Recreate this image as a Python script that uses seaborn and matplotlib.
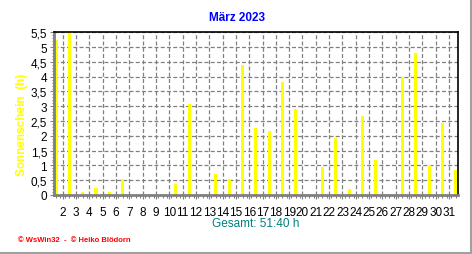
import matplotlib
matplotlib.use("Agg")
import matplotlib.pyplot as plt
from matplotlib.ticker import FixedLocator, MultipleLocator, FuncFormatter
from matplotlib.lines import Line2D
import seaborn as sns
import pandas as pd
import numpy as np

days = list(range(1, 32))
sunshine = [5.25, 5.5, 0.11, 0.23, 0.11, 0.54, 0.02, 0.02, 0.02, 0.37,
            3.08, 0.03, 0.71, 0.54, 4.40, 2.27, 2.16, 3.82, 2.91, 0.03,
            0.94, 1.93, 0.20, 2.67, 1.18, 0.03, 3.99, 4.80, 1.01, 2.44, 0.86]
tick_labels = [str(d) for d in range(2, 32)]
title = "März 2023"
ylabel = "Sonnenschein  (h)"
xlabel = "Gesamt: 51:40 h"
footer = "© WsWin32  -  © Heiko Blödorn"

sns.set_theme(style="white")
plt.rcParams['font.family'] = ['Liberation Sans', 'DejaVu Sans']

df = pd.DataFrame({"day": days, "h": sunshine})

fig = plt.figure(figsize=(4.72, 2.55), dpi=100)
ax = fig.add_axes([54/472, 1-196/255, (457.7-54)/472, (196-33.3)/255])
sns.barplot(data=df, x="day", y="h", native_scale=True, width=0.23,
            color="#FFFF00", saturation=1, edgecolor="none", linewidth=0, ax=ax)

ax.set_xlim(0.85, 31.15)
ax.set_ylim(0, 5.5)

tick_pos = [d - 0.5 for d in range(2, 32)]
ax.xaxis.set_major_locator(FixedLocator(tick_pos))
ax.set_xticklabels(tick_labels)
ax.xaxis.set_minor_locator(MultipleLocator(1/3))
ax.yaxis.set_major_locator(MultipleLocator(0.5))
ax.yaxis.set_minor_locator(MultipleLocator(0.1))
ax.yaxis.set_major_formatter(FuncFormatter(lambda v, p: ("%g" % v).replace(".", ",")))

ax.tick_params(axis="x", which="major", length=3, width=0.8, color="#808080",
               labelsize=8.5, pad=5, labelcolor="black", bottom=True)
ax.tick_params(axis="x", which="minor", length=2, width=0.8, color="#808080", bottom=True)
ax.tick_params(axis="y", which="major", length=3, width=0.8, color="#808080",
               labelsize=8.5, pad=2, labelcolor="black", left=True)
ax.tick_params(axis="y", which="minor", length=1.5, width=0.8, color="#808080", left=True)

ax.grid(True, which="major", axis="both", color="#808080", linestyle=(0, (3.2, 1.8)),
        linewidth=0.9)
ax.set_axisbelow(True)

for s in ["left", "bottom"]:
    ax.spines[s].set_color("#808080")
    ax.spines[s].set_linewidth(2)
for s in ["top", "right"]:
    ax.spines[s].set_color("black")
    ax.spines[s].set_linewidth(1.2)

ax.set_xlabel("")
ax.set_ylabel("")

fig.text(237/472, 1-18/255, title, color="#0000FF", fontsize=8.5, fontweight="bold",
         ha="center", va="center")
fig.text(22/472, 1-125/255, ylabel, color="#FFFF00", fontsize=8.5, fontweight="bold",
         rotation=90, ha="center", va="center")
fig.text(256/472, 1-224/255, xlabel, color="#008080", fontsize=8.5,
         ha="center", va="center")
fig.text(18/472, 1-241/255, footer, color="#FF0000", fontsize=5.5, fontweight="bold",
         ha="left", va="center")

fig.add_artist(Line2D([470.5/472, 470.5/472], [1-253.5/255, 1], transform=fig.transFigure,
                      color="#A0A0A0", linewidth=1.5))
fig.add_artist(Line2D([0, 470.5/472], [1-253.5/255, 1-253.5/255], transform=fig.transFigure,
                      color="#A0A0A0", linewidth=1.5))

fig.savefig("out.png", dpi=100, facecolor="white")
